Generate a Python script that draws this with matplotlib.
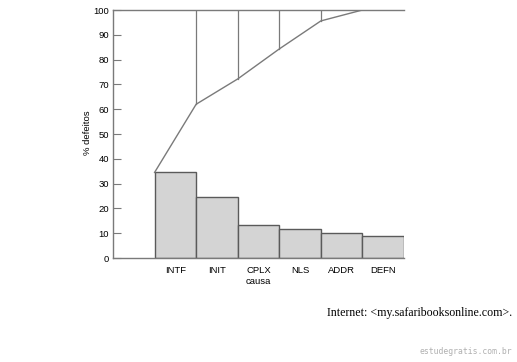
import matplotlib
matplotlib.use("Agg")
import matplotlib.pyplot as plt

# dados
causas = ["INTF", "INIT", "CPLX", "NLS", "ADDR", "DEFN"]
pct_defeitos = [34.5, 24.5, 13.5, 11.5, 10.2, 9.0]
acumulado = [34.5, 62.0, 72.2, 84.3, 95.6, 100.0]
y_ticks = list(range(0, 101, 10))

plt.rcParams["font.family"] = ["Liberation Sans", "DejaVu Sans"]

COR_BARRA = "#d4d4d4"
COR_BORDA = "#5a5a5a"
COR_LINHA = "#7a7a7a"

fig = plt.figure(figsize=(5.17, 3.62), dpi=100)
ax = fig.add_axes([113 / 517, 1 - 258 / 362, 291 / 517, 248 / 362])

x_barras = list(range(1, len(causas) + 1))
ax.bar(x_barras, pct_defeitos, width=1.0, color=COR_BARRA,
       edgecolor=COR_BORDA, linewidth=1.0, zorder=2)

# linha acumulada: começa no canto da primeira barra, depois nas bordas direitas
x_acum = [x_barras[0] - 0.5] + [x + 0.5 for x in x_barras[:-1]]
ax.plot(x_acum, acumulado, color=COR_LINHA, linewidth=1.0, zorder=3)
# verticais até 100%
for xa, ya in zip(x_acum[1:-1], acumulado[1:-1]):
    ax.plot([xa, xa], [ya, 100], color=COR_LINHA, linewidth=0.9, zorder=3)

ax.set_xlim(-0.5, len(causas) + 0.5)
ax.set_ylim(0, 100)
ax.set_yticks(y_ticks)
ax.set_xticks(x_barras)
ax.set_xticklabels(causas)
ax.tick_params(axis="y", labelsize=6.8, length=5.5, width=0.8,
               direction="in", color=COR_LINHA, pad=3)
ax.tick_params(axis="x", labelsize=6.8, length=0, pad=6)
ax.set_xlabel("causa", fontsize=6.8, labelpad=1)
ax.set_ylabel("% defeitos", fontsize=6.8)
ax.yaxis.set_label_coords(-0.072, 0.504)

for lado in ["left", "top", "bottom"]:
    ax.spines[lado].set_color(COR_LINHA)
    ax.spines[lado].set_linewidth(1.0)
ax.spines["right"].set_visible(False)

fig.text(0.99, 1 - 313 / 362, "Internet: <my.safaribooksonline.com>.",
         family="Liberation Serif", fontsize=8.6, ha="right", va="center")
fig.text(0.99, 1 - 352 / 362, "estudegratis.com.br",
         family="DejaVu Sans Mono", fontsize=5.9, color="#b0b0b0",
         ha="right", va="center")

fig.savefig("out.png", dpi=100)
